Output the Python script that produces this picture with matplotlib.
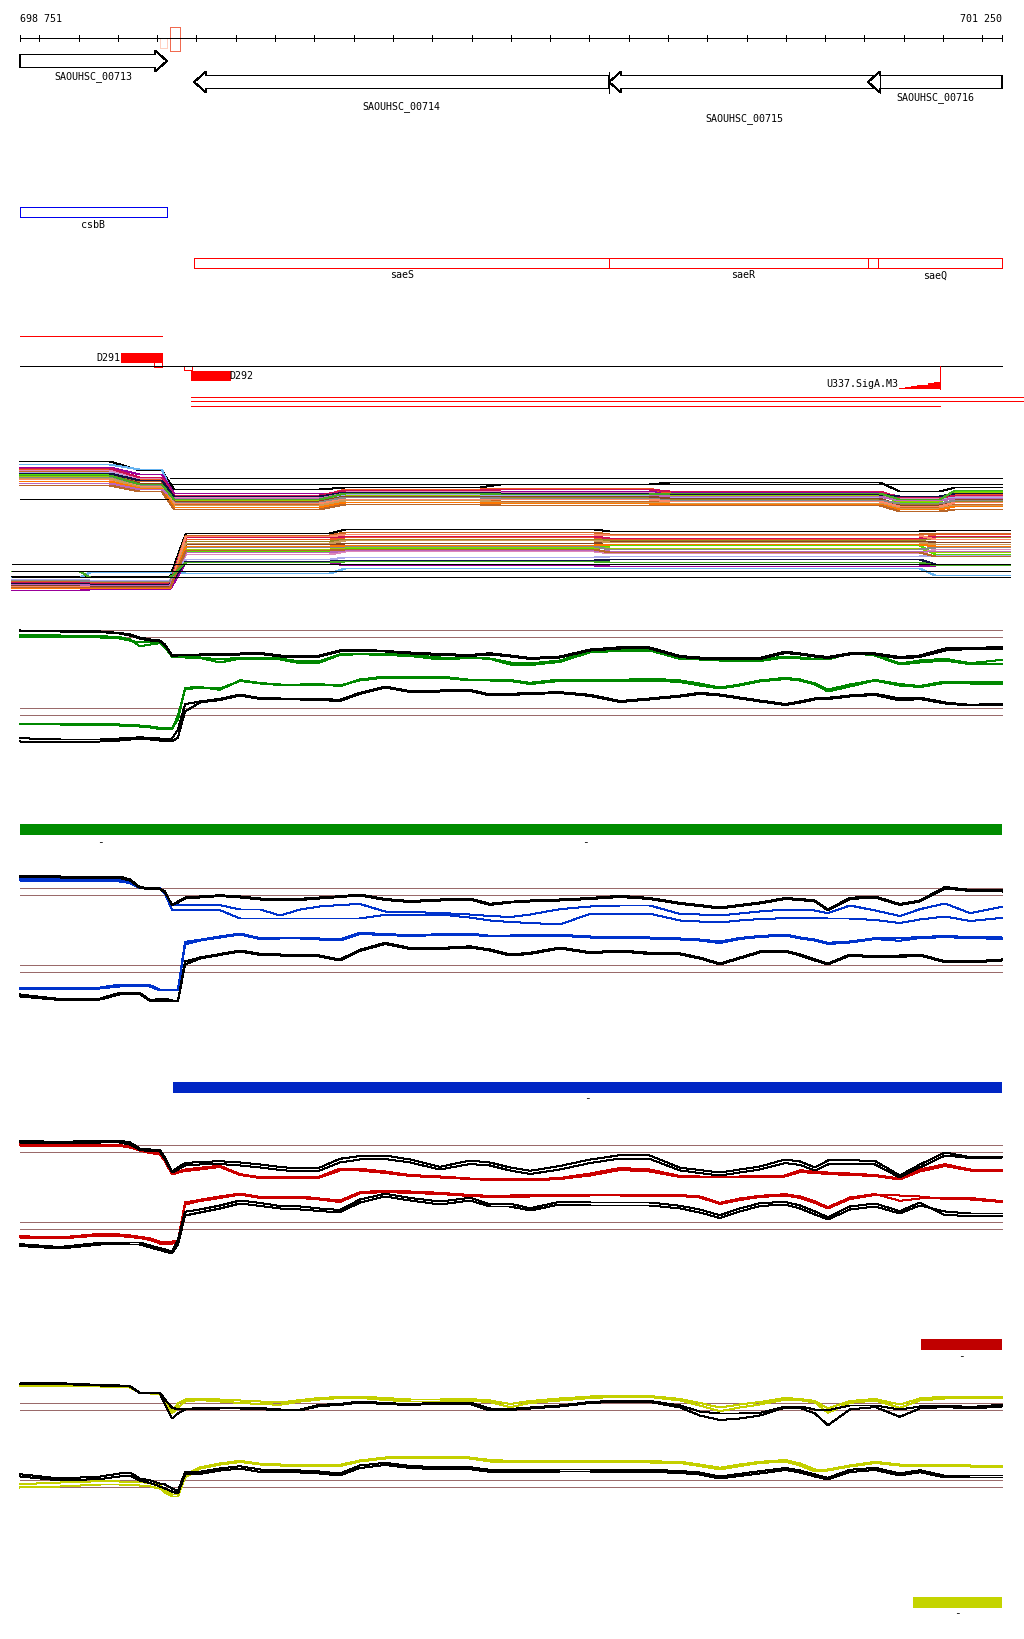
import matplotlib
matplotlib.use('Agg')
import matplotlib.pyplot as plt
from matplotlib.patches import Rectangle, Polygon

plt.rcParams['lines.antialiased'] = False
plt.rcParams['patch.antialiased'] = False

# ---------------- data ----------------
START, END = 698751, 701250
ruler_ticks = [698751] + list(range(698800, 701201, 100)) + [701250]
ruler_labels = ['698 751', '701 250']

gene_names = ['SAOUHSC_00713', 'SAOUHSC_00714', 'SAOUHSC_00715', 'SAOUHSC_00716']
gene_start = [698751, 699194, 700250, 700909]
gene_end = [699125, 700250, 700940, 701250]
gene_strand = ['+', '-', '-', '-']

csb_name, csb_start, csb_end = 'csbB', 698751, 699125
sae_names = ['saeS', 'saeR', 'saeQ']
sae_start = [699194, 700250, 700909]
sae_end = [700250, 700934, 701250]

term_line = [698751, 699112]
d291 = [699008, 699112]
d291_box = [699092, 699112]
d292_box = [699168, 699188]
d292 = [699186, 699285]
u337_name = 'U337.SigA.M3'
u337_steps_x = [700988, 701003, 701018, 701034, 701046, 701062, 701077, 701092]
u337_steps_h = [388.5, 387.5, 386.7, 385.7, 385.0, 383.7, 382.7, 382.7]
red_long = [[699186, 701310], [699186, 701310], [699186, 701092]]

# multicolour panel: segment boundaries and per-series levels
up_segs = [(698751, 698980), (699056, 699112), (699143, 699514), (699578, 699922),
           (699973, 700354), (700405, 700939), (700990, 701092), (701130, 701250)]
up_levels = [
    [462, 471, 490, 488, 485, 483, 492, 488],
    [465, 470, 498, 497, 496, 497, 498, 497],
    [468, 475, 494, 494, 492, 493, 497, 494],
    [470, 480, 497, 490, 489, 494, 500, 495],
    [472, 482, 505, 500, 502, 502, 508, 505],
    [474, 484, 503, 496, 498, 500, 505, 502],
    [475, 485, 500, 495, 494, 495, 503, 492],
    [477, 486, 501, 496, 495, 496, 502, 493],
    [471, 479, 498, 492, 493, 497, 499, 497],
    [473, 481, 499, 495, 496, 498, 500, 498],
    [476, 484, 502, 497, 497, 499, 506, 500],
    [469, 478, 496, 491, 490, 492, 498, 496],
    [474, 481, 497, 493, 494, 495, 497, 494],
    [478, 486, 503, 498, 499, 501, 504, 501],
    [480, 487, 504, 500, 500, 502, 507, 503],
    [479, 488, 506, 501, 503, 504, 509, 506],
    [482, 489, 508, 503, 504, 505, 510, 507],
    [484, 490, 499, 494, 495, 497, 501, 499],
    [486, 492, 510, 505, 506, 506, 512, 510],
    [476, 485, 500, 494, 495, 494, 500, 491],
]
lo_segs = [(698731, 698904), (698929, 699133), (699173, 699540), (699578, 700214),
           (700252, 701041), (701080, 701270)]
lo_levels = [
    [577, 577, 534, 530, 532, 531],
    [578, 573, 574, 569, 569, 576],
    [591, 590, 563, 566, 567, 566],
    [583, 584, 540, 538, 540, 535],
    [582, 583, 536, 533, 535, 534],
    [585, 586, 542, 540, 541, 538],
    [587, 587, 552, 549, 546, 555],
    [586, 588, 550, 548, 549, 553],
    [584, 585, 555, 552, 554, 550],
    [580, 581, 560, 558, 557, 556],
    [586, 587, 545, 544, 542, 543],
    [583, 584, 538, 537, 539, 537],
    [584, 585, 562, 561, 560, 565],
    [581, 582, 548, 547, 550, 548],
    [587, 588, 537, 535, 536, 540],
    [588, 589, 544, 541, 543, 545],
    [589, 589, 547, 546, 545, 547],
    [585, 586, 553, 551, 552, 552],
    [588, 588, 551, 550, 553, 557],
    [572, 578, 563, 562, 563, 566],
]
mc_colors = ['#000000', '#66b3f0', '#990099', '#ee5522', '#cc6622', '#998822', '#55dd00',
             '#99cc00', '#dd88bb', '#aaaaee', '#884422', '#cc1155', '#111144', '#888888',
             '#ff8866', '#cc9955', '#ff7700', '#bb66bb', '#b8662a', '#44aa22']
up_ref = [(478, 699133, 701250), (484, 699133, 701250), (499, 698751, 699128)]
lo_ref = [(564, 698731, 701270), (571, 698731, 701270), (577, 698731, 701270)]

# shared x grid for the expression panels
grid_bp = [698751, 698853, 698955, 699005, 699031, 699056, 699082, 699107, 699120, 699138,
           699153, 699171, 699209, 699260, 699311, 699362, 699413, 699464, 699514, 699565,
           699616, 699680, 699744, 699820, 699896, 699947, 699998, 700049, 700125, 700202,
           700278, 700354, 700431, 700481, 700532, 700583, 700634, 700698, 700736, 700774,
           700807, 700863, 700927, 700990, 701041, 701105, 701169, 701250]

# green panel
g_ub1 = [631,631.5,632,633.5,635,638,640,641,645,655.5,655,655,655,654.5,654,653.5,656,656.5,656,651,
         650,651.5,653,654.5,655.5,653.7,656,658.5,657,650,647.7,648,656.5,658,658.5,659,658.5,652,654,656,
         657.5,653.7,654,657.5,656,649,648.3,647.7]
g_ub2 = [632,632,632.5,634,636,639,641,642,646,656.5,656,656,656,655.5,655,654.5,657,657.5,657,652,
         651,652,654,655.5,656.5,655,657,659.5,658,651,649,649,657.5,659,659.5,660,659.5,653.5,655,657,
         658.5,655,655,659,657.5,651,649.5,649.5]
g_uc1 = [635.7,636,636.7,637.5,640,646.7,645,643.7,648,657.3,658,658,658.5,663,659,659.5,660,663.7,663,655.5,
         654.7,655.5,656.5,660,658.5,659.3,665,665.5,662.5,652.7,651.5,651,659.5,660,661,662,661.5,658,659,660,
         660,654,655,664,661,659.3,663.7,660.3]
g_uc2 = [637.7,638,638,639,641,643,642.5,642,647,656.5,657.5,657.5,658,660,658,658,659,662,661.5,655,
         654,654.5,655.5,658,658,659,663,664,661,651.5,650.5,650,658,659.5,660.5,661,660,657,658,659.5,
         659.5,653.5,656,665,663,661,664.7,664.7]
g_lc1 = [724,724,724.5,725,725.5,726,727,728.3,728.5,728.7,720,688.3,687.5,690.3,680.7,683.5,685,685,684.5,686.7,
         680,677,678,677,680.3,680,680.5,683.3,680,680.3,680.5,679,681,684,688,685,681,678.3,680,684,
         690,685,680.5,684.5,686.5,682,682.5,682.7]
g_lc2 = [725,725,725.5,726,726.5,727,728,729.5,730,730,716,690,688,689,681.5,684,685.5,685.5,685,686,
         681,678,679,678,681,681,681.5,684.5,681.5,681,681.5,681,682.5,686,689,686,682,679.5,681,685,
         692,687,681,686,687.5,683.5,684,684.5]
g_lb1 = [738.7,740,740,739,738.5,737.7,738.5,739,739.3,739,730,704.7,702,699.3,695,698.7,699,699,699.5,700.3,
         693.3,687,691.7,691,690.3,695,694.3,693.5,692.7,695.3,701.5,699,696,693.3,695,698,701,704.5,702,699,
         698.3,696,694.3,699,698,703,705.3,704.3]
g_lb2 = [742,742.5,742,741,740,739.5,740,741,741.5,742,738,712,703,700.5,696,699.5,700,700,700.5,701.5,
         694.5,688,692.5,692,691.5,696,695.5,694.5,693.5,696.5,702.5,700,697,694.5,696,699,702,705.5,703,700,
         699.5,697,695.5,701,699.5,704,706,705.5]
g_ref = [630.3, 637.3, 708.3, 715.3]

# blue panel
b_ub1 = [876.7,877,877,877,880,887.7,888.5,889,892,906,902,898,897,895.7,897,899,899.5,899.3,898,896.7,
         895,899.5,901.5,900,899,904.3,902.3,901,900,898.5,896.3,898.5,903.5,905.5,908,905.5,903,898.5,899.5,901,
         910,898.3,897,904.5,901,887.5,890.5,891]
b_ub2 = [878,878,878.5,878.5,881,888.5,889.5,889.5,893,905,903,899,898,896.5,898,900,900.5,900.5,899,897.5,
         896,900.5,902.5,901,900,905.5,903,902,901,899.5,897.5,899.5,904.5,906.5,909,906.5,904,899.5,900.5,902,
         911,899.5,898,905.5,902,889,891.5,892]
b_uc1 = [879,879.5,880,880.5,882,888,888.5,888.7,893,905.7,905.7,905.7,905.7,905.7,910,910,916,910,907,905.5,
         904.5,912,912.5,913.5,915,916.5,917.5,915,909.7,907,906,906,914.5,915,916,914,912,910,910.5,911,
         913.7,906,911,916.5,909.7,904,913.7,907.3]
b_uc2 = [881,881.5,882,882,883.5,888.5,889.5,889.5,894,910.7,910.7,910.7,910.7,910.7,919,919,919,919,919,919,
         919,915.3,915.3,915,918,921,922.5,923.5,925,914.3,914.3,914.3,921,922,923,921,919.5,918.7,918.7,918.7,
         919,919,920.5,923.5,920,917,921.5,918.3]
b_lc1 = [988.3,988.2,988,985,985,985.5,985.7,990,990,990,990,942.3,940.3,937,934,938.7,938.3,938,939,940,
         933.3,934.5,935.7,934.7,934,936.3,936,935.8,935.3,937,937.6,938,939,940,942,938.5,936.5,935,938,940,
         943.3,942,938.7,939,937.3,936.7,937.3,938]
b_lc2 = [989.5,989.5,989,987,986.5,986.5,987,991,991,991,991,945,941,938,935,939.5,939,939,940,941,
         934.5,935.5,936.5,935.5,935,937,937,936.8,936.3,938,938.5,939,940,941,943.5,939.5,937.5,936,939,941,
         944.5,943,939.5,941.3,938.5,937.7,938.5,939.5]
b_lb1 = [995,999.5,999,993.3,993.3,993.3,1000.7,999.5,999,1001,1001,962,958,954.5,951,954.3,955,955.5,956,960,
         950.3,943.3,948.5,948.5,946.8,950,955,953.3,948,952.7,951,953.3,954,958,964,958,952,951,955,960,
         964,955,957,956,955,961.7,962,960]
b_lb2 = [997,1000.5,1000,995,994.5,994.5,1001.5,1001,1001.5,1002,1002,965,959,955.5,952,955.5,956,956.5,957,961,
         951.5,944.5,949.5,949.5,948,951,956,954.5,949,953.7,952,954.5,955,959,965,959,953,952,956,961,
         965,956,958,957.5,956,962.7,963,961]
b_ref = [888.3, 895.3, 965.3, 972.3]

# red panel
r_ub1 = [1141.3,1142.5,1141,1141.3,1143,1149,1150,1150.3,1158,1172,1168,1163.5,1162.5,1161.7,1163,1165,1167.5,1169,1168,1159.3,
         1156.5,1156,1160,1167.3,1161,1163,1168,1171.3,1166.5,1160,1155.7,1156,1168.3,1170.5,1173,1170,1167,1160,1162,1168,
         1161,1160.7,1161.5,1176,1165,1153,1157.7,1157.3]
r_ub2 = [1143,1144,1143,1143,1145,1150.5,1151.5,1152,1160,1173,1170,1166,1165,1164.5,1166,1168,1170.5,1172,1171,1163,
         1160,1159.5,1163,1170,1164.5,1166,1171,1174.5,1170,1163.5,1159,1159.5,1171,1173.5,1176,1173,1170,1163.5,1165.5,1171,
         1165,1164,1165,1178,1168,1156,1158.5,1158]
r_uc1 = [1145,1145.7,1145.5,1145.7,1147,1149.3,1152,1153.3,1160,1174,1172,1170,1168.3,1166.3,1174.7,1177.7,1177.5,1177.5,1177,1169,
         1169.3,1172,1175.5,1177,1179,1179.5,1179.8,1180,1178.5,1174,1168.5,1170,1176.5,1177,1177,1177,1176.5,1176,1170.7,1172,
         1173,1174,1175.5,1179,1170,1164.7,1170,1170]
r_uc2 = [1146,1146.5,1146.5,1146.5,1148,1151,1153.5,1155,1162,1175,1173,1171.5,1170,1167.5,1175.5,1178.5,1178.5,1178.5,1178,1171,
         1171,1173.5,1176.5,1178,1179.5,1180.5,1181,1181,1179.5,1176,1170.5,1172,1177.5,1178,1178,1178,1177.5,1177,1172.5,1173.5,
         1174.5,1175.5,1176.5,1180,1172,1166.5,1171,1171.5]
r_lc1 = [1236.7,1238,1234.3,1235,1236,1237.3,1239,1242,1243,1242,1241,1203,1200.3,1197,1194,1197.5,1198,1197,1199,1201,
         1192.7,1191,1192,1193.3,1195.5,1196.3,1196,1195.7,1195.5,1195,1195,1195,1195.5,1197,1203.3,1199,1196.3,1194.7,1197,1202,
         1207.7,1198,1194.5,1201.3,1199,1198.3,1198.5,1201.7]
r_lc2 = [1238,1239,1236,1236.5,1237.5,1238.5,1240.5,1244,1245,1244,1243,1205,1201.5,1198.5,1195,1198.5,1199,1198.5,1200,1202.5,
         1194,1192.5,1193.5,1194.5,1196.5,1197.5,1197.5,1197,1196.5,1196,1196,1196.5,1196.5,1198,1204.5,1200.5,1197.5,1196,1198.5,1203.5,
         1209,1199.5,1195.5,1196,1197,1199.5,1200,1202.5]
r_lb1 = [1244.7,1247.5,1243.3,1243.5,1243,1243,1246,1248.7,1250,1252,1240,1212.3,1210,1206,1201,1203.5,1206.5,1207,1209,1210.5,
         1200,1194.3,1198.5,1202,1198.3,1204.7,1204.2,1208.7,1202.3,1203,1203,1203,1206.3,1210,1215.7,1209,1203.7,1202.3,1206,1212,
         1217.7,1207,1204,1211.7,1203,1215.7,1216.3,1216.3]
r_lb2 = [1246.5,1249,1245,1245,1245,1245,1248,1250.5,1252,1254,1245,1216,1213,1209,1204,1206.5,1209,1210,1211.5,1213,
         1203,1197,1201,1205,1201,1207,1207,1211,1205,1206,1206,1206,1209,1213,1218.5,1212,1206.5,1205,1209,1215,
         1220,1210,1207,1214,1206,1212,1214,1214]
r_ref = [1145.3, 1152.3, 1222.3, 1229.3]

# yellow panel
y_ub1 = [1384,1383.7,1385.5,1386,1386.7,1393,1393,1393,1400,1408.3,1409.7,1409.5,1408.5,1408,1408,1408.5,1410,1410,1405.3,1404.5,
         1402,1403.5,1404.7,1403,1403,1409,1409.5,1408,1406,1402.5,1401,1401.5,1406,1412,1414,1414,1413.3,1407,1407,1410,
         1410.7,1406,1406,1410,1407,1406,1407.5,1405.3]
y_ub2 = [1384.5,1384.5,1386,1386.5,1387,1393.5,1393.5,1394,1405,1419,1414,1410,1409.5,1409,1409,1409.5,1411,1411,1406.5,1405.5,
         1403,1404.5,1405.5,1404,1404.5,1411,1410.5,1409,1407,1403.5,1402,1402.5,1408,1416,1420.5,1419,1416,1408,1408.5,1414,
         1425.7,1410,1407.5,1417.3,1409,1407.5,1409,1407]
y_uc1 = [1385.7,1386,1386.5,1387,1387.3,1393,1393.5,1394,1402,1413.7,1408,1402,1400.5,1402,1403.5,1404.5,1405.3,1402,1400,1398.5,
         1398.3,1400.5,1402,1402,1401,1402.7,1407.7,1403.5,1401,1398.5,1397.3,1397.5,1401,1406,1411.7,1408,1405,1400,1400.5,1403,
         1413.3,1403.3,1401,1408.3,1401,1399,1398.7,1398.7]
y_uc2 = [1386.5,1386.5,1387,1387.5,1388,1393.5,1394,1395,1405,1411,1404,1400,1399,1400,1401,1402,1403,1400.5,1398.5,1397.5,
         1397,1398.5,1400,1400,1399.5,1401,1404.5,1401.5,1399,1397,1396,1396.5,1399.5,1403.5,1408,1405,1402.5,1398.5,1399.5,1401.5,
         1409,1401.5,1399.5,1405,1399,1397,1397,1397]
y_lc1 = [1484.7,1483,1481.7,1482,1482.3,1482.3,1484,1486,1490,1495,1495,1475,1468,1464,1461.3,1464.3,1465,1465,1465,1465.3,
         1461,1458,1457.8,1457.8,1458,1460.5,1461.3,1461,1461,1461.2,1461.3,1461.8,1462.3,1465,1468.3,1465,1462.3,1460.5,1464,1470,
         1470,1466,1462.3,1465,1465.2,1465.5,1466,1466]
y_lc2 = [1488,1487,1485,1485,1485.5,1486,1487,1489,1493,1497,1497,1478,1469,1465,1462.5,1465,1466,1466.5,1466.5,1466.5,
         1462,1459,1459,1459,1459,1462,1462.5,1462.3,1462.3,1462.5,1462.5,1463,1463.5,1466.5,1470,1466.5,1463.5,1462,1466,1472,
         1471,1467,1463.5,1466,1466.5,1466.5,1467,1467.5]
y_lb1 = [1474.7,1479,1477,1474,1473,1479,1481,1484,1485,1489,1491.7,1472.7,1472.3,1469,1466.7,1470,1470.5,1471,1472,1474,
         1466,1463.3,1466.5,1467.7,1467.7,1470.3,1470.5,1470.7,1470,1470,1470.2,1470.3,1471.5,1473,1477,1474.3,1471.7,1468.5,1471,1475,
         1478.3,1470.3,1468.3,1474,1470.7,1476.3,1476,1476]
y_lb2 = [1477,1481,1479.5,1477,1476,1481,1483.5,1487,1489,1492,1494,1475,1474.5,1471,1469,1472.5,1472.5,1473,1474,1476,
         1468.5,1465.5,1468.5,1469.7,1469.7,1472.3,1472.5,1472.7,1472,1472,1472.2,1472.3,1473.5,1475,1479,1476.5,1474,1470.5,1473,1477,
         1480,1472.5,1470.5,1476,1472.7,1478,1478,1478]
y_ref = [1403.3, 1410.3, 1480.3, 1487.3]

# coloured feature bars (start, end)
green_feats = [(698751, 699160), (699130, 701250)]
blue_feats = [(699140, 701250)]
darkred_feats = [(701044, 701250)]
yellow_feats = [(701024, 701250)]

# ---------------- drawing ----------------
W, H = 1024, 1640
fig = plt.figure(figsize=(W / 100, H / 100), dpi=100)
ax = fig.add_axes([0, 0, 1, 1])
bp_per_px = (END - START) / 982.0
ax.set_xlim(START - 20 * bp_per_px, END + 22 * bp_per_px)
ax.set_ylim(H - 0.5, -0.5)
ax.axis('off')

LW = 0.72   # one pixel
MONO = 'DejaVu Sans Mono'
FS = 7.2

def txt(x, y, s, ha='center', color='black', fs=FS):
    ax.text(x, y, s, ha=ha, va='center', fontsize=fs, family=MONO, color=color)

# ruler
ax.hlines(38, START, END, color='black', lw=LW)
ax.vlines(ruler_ticks, 35, 41.5, color='black', lw=LW)
txt(START, 19, ruler_labels[0], ha='left')
txt(END, 19, ruler_labels[1], ha='right')
ax.add_patch(Rectangle((699107, 38), 18, 10, fill=False, ec='#ffd0c0', lw=LW))
ax.add_patch(Rectangle((699133, 27.5), 25, 23.5, fill=False, ec='#f06a50', lw=LW))

# genes
head = 12 * bp_per_px
gene_rows = [61.5, 82.5, 82.5, 82.5]
label_rows = [76, 106, 118, 97]
for name, s, e, st, cy, ly in zip(gene_names, gene_start, gene_end, gene_strand, gene_rows, label_rows):
    if st == '+':
        pts = [(s, cy - 6.5), (e - head, cy - 6.5), (e - head, cy - 10.5), (e, cy),
               (e - head, cy + 10.5), (e - head, cy + 6.5), (s, cy + 6.5)]
    else:
        pts = [(s, cy), (s + head, cy - 10.5), (s + head, cy - 6.5), (e, cy - 6.5),
               (e, cy + 6.5), (s + head, cy + 6.5), (s + head, cy + 10.5)]
    ax.add_patch(Polygon(pts, closed=True, fc='white', ec='black', lw=LW))
    if st == '-' and e < END:
        ax.vlines(e, cy - 10.5, cy + 10.5, color='black', lw=LW)
    txt((s + e) / 2, ly, name)

# csbB
ax.add_patch(Rectangle((csb_start, 207.5), csb_end - csb_start, 10, fill=False, ec='#0000ee', lw=LW))
txt((csb_start + csb_end) / 2, 224, csb_name)

# sae operon
for name, s, e in zip(sae_names, sae_start, sae_end):
    ax.add_patch(Rectangle((s, 258.5), e - s, 10, fill=False, ec='#ff0000', lw=LW))
    txt((s + e) / 2, 275, name)

# terminators / promoters row
ax.hlines(336, term_line[0], term_line[1], color='#ff0000', lw=LW)
ax.add_patch(Rectangle((d291[0], 353), d291[1] - d291[0], 9, fc='#ff0000', ec='#ff0000', lw=0.5))
txt(d291[0] - 1 * bp_per_px, 357.5, 'D291', ha='right')
ax.add_patch(Rectangle((d291_box[0], 362), d291_box[1] - d291_box[0], 5, fill=False, ec='#ff0000', lw=LW))
ax.hlines(366.5, START, END, color='black', lw=LW)
ax.add_patch(Rectangle((d292_box[0], 366.5), d292_box[1] - d292_box[0], 4, fill=False, ec='#ff0000', lw=LW))
ax.add_patch(Rectangle((d292[0], 371), d292[1] - d292[0], 9, fc='#ff0000', ec='#ff0000', lw=0.5))
txt(d292[1], 375.5, 'D292', ha='left')
txt(u337_steps_x[0] - 1 * bp_per_px, 383.5, u337_name, ha='right')
ax.fill_between(u337_steps_x, u337_steps_h, 389.5, step='post', color='#ff0000', lw=0)
ax.vlines(u337_steps_x[-1], 366.5, 389.5, color='#ff0000', lw=LW)
for (s, e), yy in zip(red_long, [397, 401, 406]):
    ax.hlines(yy, s, e, color='#ff0000', lw=LW)

# multicolour panel
def seg_xy(segs, levels):
    xs, ys = [], []
    for (s, e), v in zip(segs, levels):
        xs += [s, e]
        ys += [v, v]
    return xs, ys

for lev, col in zip(up_levels, mc_colors):
    xs, ys = seg_xy(up_segs, lev)
    ax.plot(xs, ys, color=col, lw=LW)
for lev, col in zip(lo_levels, mc_colors):
    xs, ys = seg_xy(lo_segs, lev)
    ax.plot(xs, ys, color=col, lw=LW)
for yy, s, e in up_ref + lo_ref:
    ax.hlines(yy, s, e, color='black', lw=LW)

# expression panels
BROWN = '#9a6a6a'
panels = [
    (g_ref, '#008800', [g_ub1, g_ub2, g_lb1, g_lb2], [g_uc1, g_uc2, g_lc1, g_lc2]),
    (b_ref, '#0033cc', [b_ub1, b_ub2, b_lb1, b_lb2], [b_uc1, b_uc2, b_lc1, b_lc2]),
    (r_ref, '#cc0000', [r_ub1, r_ub2, r_lb1, r_lb2], [r_uc1, r_uc2, r_lc1, r_lc2]),
    (y_ref, '#c4d000', [y_ub1, y_ub2, y_lb1, y_lb2], [y_uc1, y_uc2, y_lc1, y_lc2]),
]
for refs, col, blacks, colours in panels:
    for yy in refs:
        ax.hlines(yy, START, END, color=BROWN, lw=LW)
    for ser in colours:
        assert len(ser) == len(grid_bp)
        ax.plot(grid_bp, ser, color=col, lw=LW)
    for ser in blacks:
        assert len(ser) == len(grid_bp)
        ax.plot(grid_bp, ser, color='black', lw=LW)

# feature bars
bars = [(green_feats, '#008c00', 824, 842), (blue_feats, '#0026c4', 1082, 1098),
        (darkred_feats, '#c00000', 1339, 1356), (yellow_feats, '#c4d400', 1597, 1613)]
for feats, col, top, dash_y in bars:
    for s, e in feats:
        ax.add_patch(Rectangle((s, top), e - s, 11.5, fc=col, ec=col, lw=0))
        txt((s + e) / 2, dash_y, '-', fs=8)

fig.savefig('out.png', dpi=100)
